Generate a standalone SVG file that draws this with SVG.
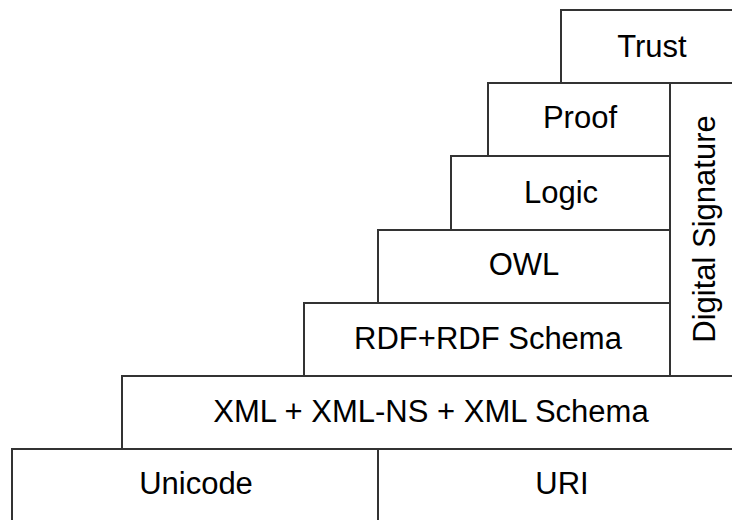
<svg xmlns="http://www.w3.org/2000/svg" width="732" height="520" viewBox="0 0 732 520">
<style>
rect{fill:#fff;stroke:#333;stroke-width:2}
text{font-family:"Liberation Sans",Arial,sans-serif;font-size:31px;fill:#000;text-anchor:middle}
</style>
<rect x="0" y="0" width="732" height="520" style="stroke:none"/>
<g id="trust"><rect x="561" y="10" width="200" height="73"/><text x="652" y="57">Trust</text></g>
<g id="proof"><rect x="488" y="83" width="182" height="73"/><text x="580" y="128">Proof</text></g>
<g id="logic"><rect x="451" y="156" width="219" height="74"/><text x="561" y="203">Logic</text></g>
<g id="owl"><rect x="378" y="230" width="292" height="73"/><text x="524" y="275">OWL</text></g>
<g id="rdf"><rect x="304" y="303" width="366" height="73"/><text x="488" y="349">RDF+RDF Schema</text></g>
<g id="digital-signature"><rect x="670" y="83" width="80" height="293"/><text transform="translate(715,229) rotate(-90)" x="0" y="0">Digital Signature</text></g>
<g id="xml"><rect x="122" y="376" width="620" height="73"/><text x="431" y="422">XML + XML-NS + XML Schema</text></g>
<g id="unicode"><rect x="12" y="449" width="366" height="80"/><text x="196" y="494">Unicode</text></g>
<g id="uri"><rect x="378" y="449" width="370" height="80"/><text x="562" y="494">URI</text></g>
<g id="connectors"/>
</svg>
